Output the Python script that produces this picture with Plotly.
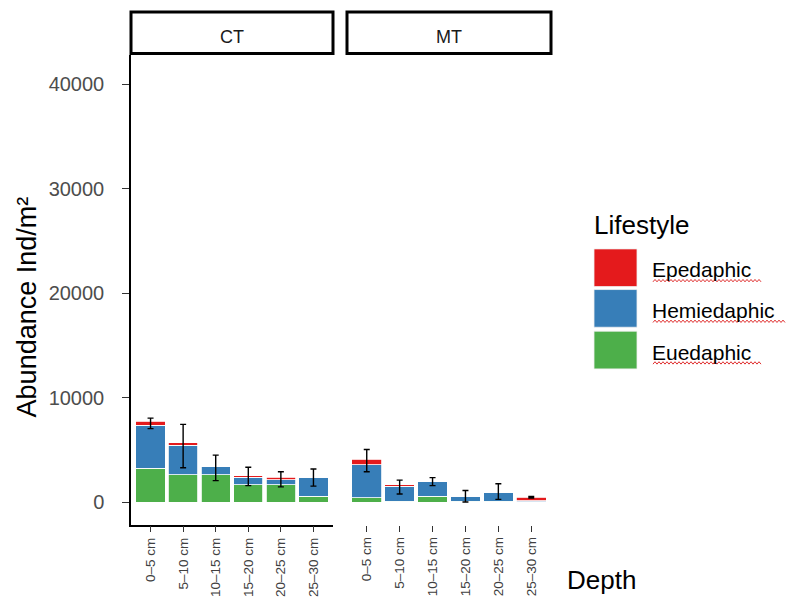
import plotly.graph_objects as go

W, H = 788, 597

depths = ["0–5 cm", "5–10 cm", "10–15 cm", "15–20 cm", "20–25 cm", "25–30 cm"]
panels = ["CT", "MT"]
lifestyles = ["Euedaphic", "Hemiedaphic", "Epedaphic"]
colors = {"Epedaphic": "#E41A1C", "Hemiedaphic": "#377EB8", "Euedaphic": "#4DAF4A"}

# stacked segment values (Ind/m²)
ct_eu = [3270, 2610, 2640, 1660, 1660, 590]
ct_hemi = [4080, 2820, 730, 730, 500, 1800]
ct_ep = [380, 240, 0, 120, 230, 0]
mt_eu = [430, 80, 590, 100, 100, 50]
mt_hemi = [3160, 1460, 1380, 490, 870, 90]
mt_ep = [510, 120, 0, 0, 0, 320]

# error bars: centre and half-width
ct_mean = [7545, 5375, 3290, 2465, 2195, 2360]
ct_err = [505, 2075, 1220, 875, 725, 820]
mt_mean = [3985, 1445, 1970, 570, 1015, 475]
mt_err = [1065, 665, 380, 550, 745, 75]

yticks = [0, 10000, 20000, 30000, 40000]

data = {
    "CT": {"Euedaphic": ct_eu, "Hemiedaphic": ct_hemi, "Epedaphic": ct_ep,
           "mean": ct_mean, "err": ct_err},
    "MT": {"Euedaphic": mt_eu, "Hemiedaphic": mt_hemi, "Epedaphic": mt_ep,
           "mean": mt_mean, "err": mt_err},
}


def px(x):
    return x / W


def py(y):
    return 1 - y / H


FONT = "Liberation Sans, Arial, sans-serif"

fig = go.Figure()
for i, p in enumerate(panels):
    xa = "x" if i == 0 else "x2"
    for ls in lifestyles:
        fig.add_trace(go.Bar(
            x=depths, y=data[p][ls], name=ls, xaxis=xa, yaxis="y",
            marker=dict(color=colors[ls], line=dict(color="white", width=0.8)),
            width=0.9, showlegend=False, hoverinfo="skip"))
    fig.add_trace(go.Scatter(
        x=depths, y=data[p]["mean"], xaxis=xa, yaxis="y", mode="markers",
        marker=dict(size=1, opacity=0), showlegend=False, hoverinfo="skip",
        error_y=dict(type="data", array=data[p]["err"], color="black",
                     thickness=1.4, width=3)))

x_common = dict(type="category", range=[-0.6, 5.6], showgrid=False, zeroline=False,
                ticks="outside", ticklen=6, tickwidth=1.2, tickcolor="#333333",
                tickangle=-90, tickfont=dict(family=FONT, size=13.5, color="#404040"),
                anchor="y", fixedrange=True)

fig.update_layout(
    width=W, height=H, margin=dict(l=0, r=0, t=0, b=0),
    paper_bgcolor="white", plot_bgcolor="white", barmode="stack",
    bargap=0.1,
    font=dict(family=FONT),
    xaxis=dict(domain=[px(131), px(333)], showline=True, linecolor="black",
               linewidth=1.5, **x_common),
    xaxis2=dict(domain=[px(347), px(551)], showline=False, **x_common),
    yaxis=dict(domain=[py(529), py(55)], range=[-2140, 42840], tickvals=yticks,
               ticktext=[str(v) for v in yticks], showgrid=False, zeroline=False,
               showline=True, linecolor="black", linewidth=1.5, ticks="outside",
               ticklen=7, tickwidth=1.2, tickcolor="#333333", ticklabelstandoff=14,
               tickfont=dict(family=FONT, size=20, color="#4d4d4d"), anchor="x",
               fixedrange=True),
)

shapes = []
annotations = []
# facet strips
for lab, (x0, x1) in zip(panels, [(131, 333), (347, 551)]):
    shapes.append(dict(type="rect", xref="paper", yref="paper", x0=px(x0), x1=px(x1),
                       y0=py(54), y1=py(12), line=dict(color="black", width=3),
                       fillcolor="white"))
    annotations.append(dict(xref="paper", yref="paper", x=px((x0 + x1) / 2), y=py(37),
                            text=lab, showarrow=False, xanchor="center", yanchor="middle",
                            font=dict(family=FONT, size=18, color="#1a1a1a")))

# axis titles
annotations.append(dict(xref="paper", yref="paper", x=px(27), y=py(310),
                        text="Abundance Ind/m²", textangle=-90, showarrow=False,
                        xanchor="center", yanchor="middle",
                        font=dict(family=FONT, size=27, color="black")))
annotations.append(dict(xref="paper", yref="paper", x=px(565), y=py(585),
                        text="Depth", showarrow=False, xanchor="left", yanchor="middle",
                        font=dict(family=FONT, size=26, color="black")))

# legend
annotations.append(dict(xref="paper", yref="paper", x=px(592), y=py(227),
                        text="Lifestyle", showarrow=False, xanchor="left", yanchor="middle",
                        font=dict(family=FONT, size=26, color="black")))
legend_order = ["Epedaphic", "Hemiedaphic", "Euedaphic"]
key_tops = [251, 292, 334]
for ls, top in zip(legend_order, key_tops):
    shapes.append(dict(type="rect", xref="paper", yref="paper", x0=px(594), x1=px(637),
                       y0=py(top + 38), y1=py(top), fillcolor=colors[ls],
                       line=dict(color="#f0f0f0", width=0.8)))
    annotations.append(dict(xref="paper", yref="paper", x=px(650), y=py(top + 21),
                            text=ls, showarrow=False, xanchor="left", yanchor="middle",
                            font=dict(family=FONT, size=21, color="black")))
    # spell-check style wavy underline
    uy = top + 32
    text_w = {"Epedaphic": 108, "Hemiedaphic": 133, "Euedaphic": 108}[ls]
    pts = []
    xx = 653
    k = 0
    while xx <= 653 + text_w:
        yy = uy + (1.2 if k % 2 == 0 else -1.2)
        pts.append(f"{px(xx):.5f},{py(yy):.5f}")
        xx += 2
        k += 1
    path = "M " + " L ".join(pts)
    shapes.append(dict(type="path", xref="paper", yref="paper", path=path,
                       line=dict(color="#e03030", width=1)))

fig.update_layout(shapes=shapes, annotations=annotations)
# remove the browser's default 8px body margin so the figure fills the window exactly
fig.write_html("out.html", config={"displayModeBar": False},
               post_script="document.body.style.margin='0px';document.body.style.overflow='hidden';")
